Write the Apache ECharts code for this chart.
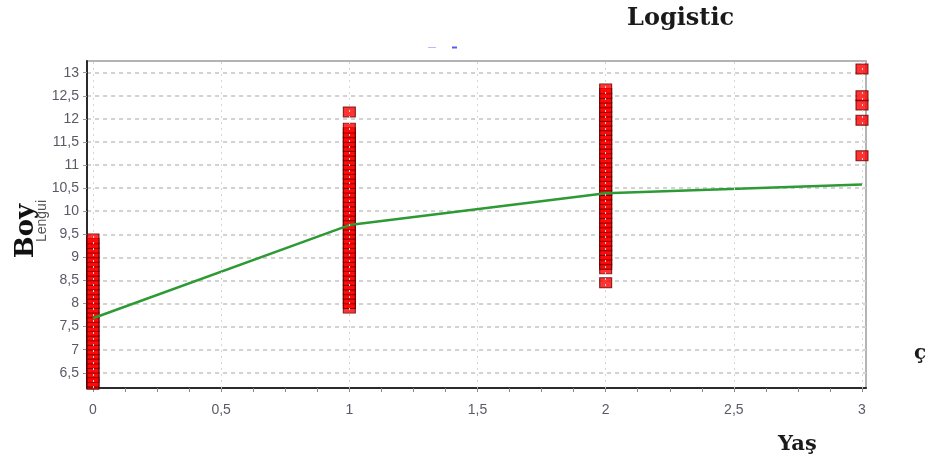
<!DOCTYPE html>
<html>
<head>
<meta charset="utf-8">
<script src="https://cdn.jsdelivr.net/npm/echarts@6/dist/echarts.min.js"></script>
<style>
  html, body { margin: 0; padding: 0; background: #fff; }
  #chart { width: 934px; height: 473px; }
</style>
</head>
<body>
<div id="chart"></div>
<script>
// Observed body length (Boy) per age class (Yaş)
const ages = [0, 1, 2, 3];
const lengthsAge0 = [6.25, 6.3, 6.4, 6.5, 6.6, 6.7, 6.8, 6.9, 7.0, 7.1, 7.2, 7.3, 7.4, 7.5, 7.6, 7.7,
                     7.8, 7.9, 8.0, 8.1, 8.2, 8.3, 8.4, 8.5, 8.6, 8.7, 8.8, 8.9, 9.0, 9.1, 9.2, 9.3, 9.4];
const lengthsAge1 = [7.9, 8.0, 8.1, 8.2, 8.3, 8.4, 8.5, 8.6, 8.7, 8.8, 8.9, 9.0, 9.1, 9.2, 9.3, 9.4,
                     9.5, 9.6, 9.7, 9.8, 9.9, 10.0, 10.1, 10.2, 10.3, 10.4, 10.5, 10.6, 10.7, 10.8,
                     10.9, 11.0, 11.1, 11.2, 11.3, 11.4, 11.5, 11.6, 11.7, 11.8, 12.15];
const lengthsAge2 = [8.45, 8.75, 8.85, 8.95, 9.05, 9.15, 9.25, 9.35, 9.45, 9.55, 9.65, 9.75, 9.85,
                     9.95, 10.05, 10.15, 10.25, 10.35, 10.45, 10.55, 10.65, 10.75, 10.85, 10.95,
                     11.05, 11.15, 11.25, 11.35, 11.45, 11.55, 11.65, 11.75, 11.85, 11.95, 12.05,
                     12.15, 12.25, 12.35, 12.45, 12.55, 12.65];
const lengthsAge3 = [11.2, 11.97, 12.3, 12.5, 13.08];

// Logistic growth fit evaluated at each age
const fitAges = [0, 1, 2, 3];
const fitLengths = [7.68, 9.70, 10.39, 10.58];

// Axis tick values
const yTicks = [6.5, 7, 7.5, 8, 8.5, 9, 9.5, 10, 10.5, 11, 11.5, 12, 12.5, 13];
const xTicks = [0, 0.5, 1, 1.5, 2, 2.5, 3];
const xMinorTicks = [];
for (let i = 0; i <= 24; i++) xMinorTicks.push(i * 0.125);

const groups = [lengthsAge0, lengthsAge1, lengthsAge2, lengthsAge3];
const scatterData = [];
groups.forEach((vals, gi) => vals.forEach(v => scatterData.push([ages[gi], v])));
const fitData = fitAges.map((a, i) => [a, fitLengths[i]]);

const fmt = v => String(v).replace('.', ',');
const labelFont = { fontFamily: 'Liberation Sans, Arial, sans-serif', fontSize: 14, color: '#5a5a66' };

const chart = echarts.init(document.getElementById('chart'), null, { renderer: 'canvas' });
chart.setOption({
  backgroundColor: '#ffffff',
  animation: false,
  grid: {
    left: 87, right: 68, top: 61, bottom: 85,
    show: true, borderColor: '#b4b4b4', borderWidth: 2
  },
  xAxis: {
    type: 'value',
    min: -0.0234, max: 3.0156,
    axisLine: { show: true, onZero: false, lineStyle: { color: '#2a2a2a', width: 2 } },
    axisTick: { show: true, customValues: xMinorTicks, length: 4, lineStyle: { color: '#888' } },
    axisLabel: { customValues: xTicks, formatter: fmt, margin: 15, ...labelFont },
    splitLine: { show: false }
  },
  yAxis: {
    type: 'value',
    min: 6.17, max: 13.254,
    axisLine: { show: true, onZero: false, lineStyle: { color: '#2a2a2a', width: 2 } },
    axisTick: { show: true, customValues: yTicks, length: 4, lineStyle: { color: '#999' } },
    axisLabel: { customValues: yTicks, formatter: fmt, margin: 8, ...labelFont },
    splitLine: {
      show: true,
      lineStyle: { color: '#d2d2d2', width: 2, type: [4, 4] }
    }
  },
  series: [
    {
      // vertical dotted grid at half-year steps
      type: 'line',
      silent: true,
      symbol: 'none',
      data: [],
      markLine: {
        silent: true,
        symbol: 'none',
        label: { show: false },
        lineStyle: { color: '#d6d6d6', width: 1, type: [2, 4] },
        data: xTicks.map(x => ({ xAxis: x }))
      },
      z: 1
    },
    {
      name: 'Gözlenen',
      type: 'scatter',
      data: scatterData,
      symbol: 'rect',
      symbolSize: [12, 10],
      itemStyle: { color: '#ff0000', borderColor: '#5a0000', borderWidth: 1 },
      clip: true,
      z: 3
    },
    {
      name: 'Logistic',
      type: 'line',
      data: fitData,
      symbol: 'none',
      lineStyle: { color: '#2e9a35', width: 2.5 },
      z: 4
    }
  ],
  graphic: [
    {
      type: 'text', left: 627, top: 7,
      style: { text: 'Logistic', font: 'bold 24px "DejaVu Serif", serif', fill: '#1a1a1a' }
    },
    {
      type: 'text', x: 26, y: 231, rotation: Math.PI / 2,
      style: { text: 'Boy', font: 'bold 26px "DejaVu Serif", serif', fill: '#111', align: 'center', textVerticalAlign: 'middle' }
    },
    {
      type: 'text', x: 42, y: 221, rotation: Math.PI / 2,
      style: { text: 'Lengui', font: '14px "Liberation Sans", sans-serif', fill: '#555', align: 'center', textVerticalAlign: 'middle' }
    },
    {
      type: 'text', left: 778, top: 434,
      style: { text: 'Yaş', font: 'bold 21px "DejaVu Serif", serif', fill: '#1a1a1a' }
    },
    {
      type: 'text', left: 914, top: 344,
      style: { text: 'ç', font: 'bold 20px "DejaVu Serif", serif', fill: '#1a1a1a' }
    },
    {
      type: 'rect', shape: { x: 428, y: 47, width: 8, height: 1 },
      style: { fill: '#b8b8ff' }
    },
    {
      type: 'rect', shape: { x: 452, y: 46.5, width: 5, height: 2 },
      style: { fill: '#5a5aff' }
    }
  ]
});
</script>
</body>
</html>
